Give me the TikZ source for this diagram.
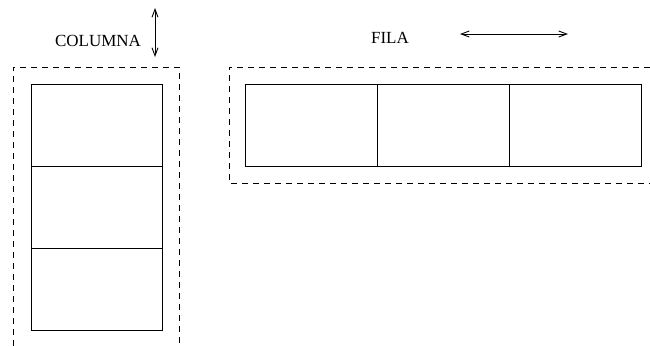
\documentclass[tikz,border=0pt]{standalone}
\usepackage{fontspec}
\setmainfont{Liberation Serif}
\usetikzlibrary{arrows.meta}
\begin{document}
\begin{tikzpicture}[x=1pt,y=-1pt,
  cell/.style={draw,line width=1pt,minimum width=131pt,minimum height=82pt,inner sep=0pt,outer sep=0pt},
  rowcell/.style={draw,line width=1pt,minimum width=132.3pt,minimum height=82pt,inner sep=0pt,outer sep=0pt},
  frame/.style={draw,line width=0.9pt,dash pattern=on 6pt off 5pt},
  lbl/.style={font=\fontsize{17}{20}\selectfont,inner sep=0pt},
  dbl/.style={line width=0.9pt,{Straight Barb[length=8pt,width=6pt]}-{Straight Barb[length=8pt,width=6pt]}}]
\useasboundingbox (0,0) rectangle (650,346);
% column frame (open at bottom)
\draw[frame] (13,346) -- (13,67) -- (179,67) -- (179,346);
% row frame (open at right)
\draw[frame] (650,67) -- (229,67) -- (229,183) -- (650,183);
% column cells
\node[cell] (c1) at (96.5,125) {};
\node[cell] (c2) at (96.5,207) {};
\node[cell] (c3) at (96.5,289.5) {};
% row cells
\node[rowcell] (r1) at (311.2,125) {};
\node[rowcell] (r2) at (443.5,125) {};
\node[rowcell] (r3) at (575.8,125) {};
% labels
\node[lbl] (col) at (98,41) {COLUMNA};
\node[lbl] (fila) at (390,38) {FILA};
% arrows
\coordinate (vt) at (155,8);
\coordinate (vb) at (155,57);
\draw[dbl] (vt) -- (vb);
\coordinate (hl) at (460,34);
\coordinate (hr) at (568,34);
\draw[dbl] (hl) -- (hr);
\end{tikzpicture}
\end{document}
